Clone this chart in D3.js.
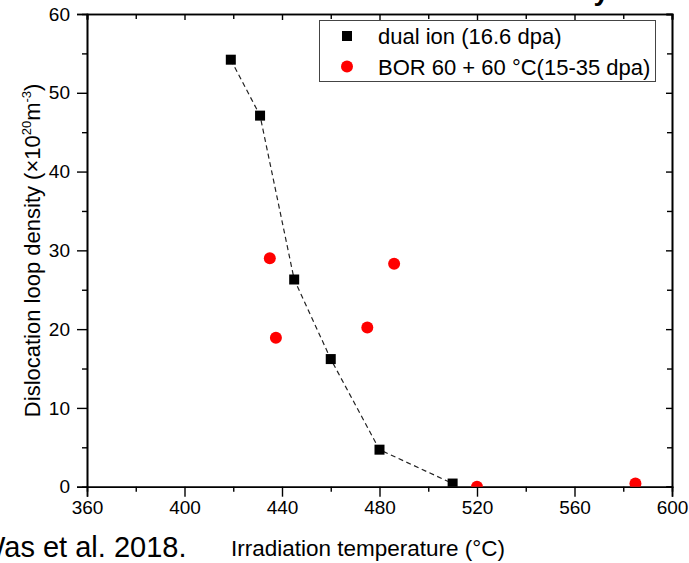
<!DOCTYPE html>
<html>
<head>
<meta charset="utf-8">
<script src="https://cdn.jsdelivr.net/npm/d3@7/dist/d3.min.js"></script>
<style>
  body { margin: 0; background: #fff; }
  svg { display: block; font-family: "Liberation Sans", Arial, sans-serif; }
</style>
</head>
<body>
<div id="chart"></div>
<script>
// values
const dualTemp = [419, 431, 445, 460, 480, 510];
const dualDensity = [54.2, 47.1, 26.3, 16.2, 4.7, 0.4];
const borTemp = [435, 437.5, 475, 486, 520, 585];
const borDensity = [29.0, 18.9, 20.2, 28.3, 0, 0.4];
const xTicks = [360, 400, 440, 480, 520, 560, 600];
const xMinor = [380, 420, 460, 500, 540, 580];
const yTicks = [0, 10, 20, 30, 40, 50, 60];
const yMinor = [5, 15, 25, 35, 45, 55];
const legendLabels = ["dual ion (16.6 dpa)", "BOR 60 + 60 \u00B0C(15-35 dpa)"];

drawChart();

function drawChart() {
    var width = 689, height = 563;
    var plotLeft = 87, plotRight = 672, plotTop = 14, plotBottom = 486.7;

    var svg = d3.select("#chart").append("svg")
        .attr("width", width)
        .attr("height", height);

    svg.append("rect").attr("width", width).attr("height", height).attr("fill", "#fff");

    var x = d3.scaleLinear().domain([360, 600]).range([plotLeft, plotRight]);
    var y = d3.scaleLinear().domain([0, 60]).range([plotBottom, plotTop]);

    // cut-off title at the very top, only the descender shows
    svg.append("text")
        .attr("x", 609).attr("y", -0.5)
        .attr("text-anchor", "end")
        .attr("font-weight", "bold")
        .attr("font-size", 28)
        .text("density");

    function styleAxis(g) {
        g.select(".domain").attr("stroke", "#000").attr("stroke-width", 1.6);
        g.selectAll(".tick line").attr("stroke", "#000").attr("stroke-width", 1.4);
        g.selectAll(".tick text").attr("fill", "#000").attr("font-size", 19)
            .attr("font-family", "Liberation Sans, Arial, sans-serif");
    }

    // minor ticks first, then the major axes
    svg.append("g").attr("transform", `translate(0,${plotBottom})`)
        .call(d3.axisBottom(x).tickValues(xMinor).tickSize(5).tickFormat(""))
        .call(styleAxis);
    svg.append("g").attr("transform", `translate(0,${plotTop})`)
        .call(d3.axisTop(x).tickValues(xMinor).tickSize(-5).tickFormat(""))
        .call(styleAxis);
    svg.append("g").attr("transform", `translate(${plotLeft},0)`)
        .call(d3.axisLeft(y).tickValues(yMinor).tickSize(5).tickFormat(""))
        .call(styleAxis);
    svg.append("g").attr("transform", `translate(${plotRight},0)`)
        .call(d3.axisRight(y).tickValues(yMinor).tickSize(-5).tickFormat(""))
        .call(styleAxis);

    svg.append("g").attr("transform", `translate(0,${plotBottom})`)
        .call(d3.axisBottom(x).tickValues(xTicks).tickSize(10).tickPadding(4).tickFormat(d3.format("d")))
        .call(styleAxis);
    svg.append("g").attr("transform", `translate(0,${plotTop})`)
        .call(d3.axisTop(x).tickValues(xTicks).tickSize(-6).tickFormat(""))
        .call(styleAxis);
    svg.append("g").attr("transform", `translate(${plotLeft},0)`)
        .call(d3.axisLeft(y).tickValues(yTicks).tickSize(10).tickPadding(7).tickFormat(d3.format("d")))
        .call(styleAxis);
    svg.append("g").attr("transform", `translate(${plotRight},0)`)
        .call(d3.axisRight(y).tickValues(yTicks).tickSize(-6).tickFormat(""))
        .call(styleAxis);

    // markers are clipped at the frame
    svg.append("clipPath").attr("id", "plot-clip")
        .append("rect")
        .attr("x", plotLeft).attr("y", plotTop)
        .attr("width", plotRight - plotLeft).attr("height", plotBottom - plotTop);

    var plot = svg.append("g").attr("clip-path", "url(#plot-clip)");

    var dual = dualTemp.map((t, i) => ({t: t, v: dualDensity[i]}));
    var bor = borTemp.map((t, i) => ({t: t, v: borDensity[i]}));

    var line = d3.line().x(d => x(d.t)).y(d => y(d.v));

    plot.append("path")
        .datum(dual)
        .attr("d", line)
        .attr("fill", "none")
        .attr("stroke", "#222")
        .attr("stroke-width", 1.2)
        .attr("stroke-dasharray", "5,3.5");

    plot.selectAll(".dual")
        .data(dual)
        .join("rect")
        .attr("class", "dual")
        .attr("x", d => x(d.t) - 5)
        .attr("y", d => y(d.v) - 5)
        .attr("width", 10)
        .attr("height", 10)
        .attr("fill", "#000");

    plot.selectAll(".bor")
        .data(bor)
        .join("circle")
        .attr("class", "bor")
        .attr("cx", d => x(d.t))
        .attr("cy", d => y(d.v))
        .attr("r", 6)
        .attr("fill", "#f00");

    // legend
    var legend = svg.append("g");
    legend.append("rect")
        .attr("x", 319.5).attr("y", 20.5)
        .attr("width", 336).attr("height", 61)
        .attr("fill", "#fff")
        .attr("stroke", "#444")
        .attr("stroke-width", 1);
    legend.append("rect")
        .attr("x", 342).attr("y", 31)
        .attr("width", 10).attr("height", 10)
        .attr("fill", "#000");
    legend.append("circle")
        .attr("cx", 347).attr("cy", 66.5).attr("r", 6)
        .attr("fill", "#f00");
    legend.selectAll(".leg-text")
        .data(legendLabels)
        .join("text")
        .attr("class", "leg-text")
        .attr("x", 378)
        .attr("y", (d, i) => 44 + i * 31)
        .attr("font-size", 22)
        .attr("fill", "#000")
        .text(d => d);

    // axis titles
    svg.append("text")
        .attr("x", 368).attr("y", 556)
        .attr("text-anchor", "middle")
        .attr("font-size", 22.5)
        .text("Irradiation temperature (\u00B0C)");

    var yTitle = svg.append("text")
        .attr("transform", `translate(40,${(plotTop + plotBottom) / 2}) rotate(-90)`)
        .attr("text-anchor", "middle")
        .attr("font-size", 22);
    yTitle.append("tspan").text("Dislocation loop density (\u00D710");
    yTitle.append("tspan").attr("font-size", 13).attr("dy", -9).text("20");
    yTitle.append("tspan").attr("dy", 9).text("m");
    yTitle.append("tspan").attr("font-size", 13).attr("dy", -9).text("-3");
    yTitle.append("tspan").attr("dy", 9).text(")");

    // source note, cut at the left edge
    svg.append("text")
        .attr("x", -22).attr("y", 557)
        .attr("font-size", 29)
        .text("Was et al. 2018.");
}
</script>
</body>
</html>
